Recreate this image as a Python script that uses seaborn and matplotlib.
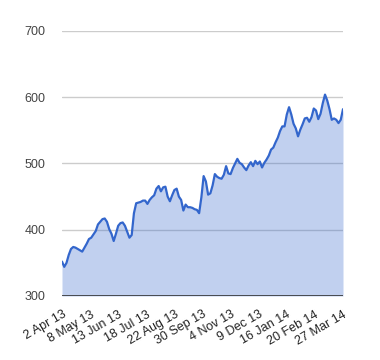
import numpy as np
import pandas as pd
import matplotlib
matplotlib.use("Agg")
import matplotlib.pyplot as plt
import seaborn as sns

# Data: closing values sampled every 2 trading days (index step 2)
values = [352, 344, 350, 362, 371, 374, 373, 371, 369, 367,
          373, 379, 386, 388, 393, 398, 408, 412, 416, 417,
          412, 401, 394, 383, 394, 406, 410, 411, 406, 397,
          388, 392, 425, 440, 441, 442, 444, 444, 439, 445,
          449, 452, 462, 466, 458, 464, 465, 450, 443, 452,
          460, 462, 450, 445, 429, 438, 434, 434, 433, 431,
          430, 425, 449, 481, 473, 453, 455, 467, 484, 480,
          478, 477, 483, 496, 485, 484, 493, 500, 507, 501,
          499, 494, 490, 497, 502, 496, 504, 499, 503, 494,
          501, 506, 512, 521, 524, 532, 539, 549, 556, 556,
          574, 585, 574, 560, 553, 541, 551, 559, 568, 569,
          563, 570, 583, 580, 567, 575, 591, 604, 595, 582,
          566, 568, 566, 561, 566, 582]
tick_labels = ["2 Apr 13", "8 May 13", "13 Jun 13", "18 Jul 13", "22 Aug 13",
               "30 Sep 13", "4 Nov 13", "9 Dec 13", "16 Jan 14", "20 Feb 14",
               "27 Mar 14"]
y_ticks = [300, 400, 500, 600, 700]

df = pd.DataFrame({"day": np.arange(len(values)) * 2, "value": values})
tick_pos = np.arange(len(tick_labels)) * 25

sns.set_theme(style="white")
plt.rcParams["font.family"] = ["Liberation Sans", "DejaVu Sans"]

fig = plt.figure(figsize=(3.8, 3.6), dpi=100)
ax = fig.add_axes([62/380, 1-296/360, (343-62)/380, (296-31)/360])

color = "#3366cc"
for yv in y_ticks[1:]:
    ax.axhline(yv, color="#cccccc", lw=1, zorder=0)
ax.fill_between(df["day"], 300, df["value"], color=color, alpha=0.3, lw=0, zorder=1)
sns.lineplot(data=df, x="day", y="value", ax=ax, color=color, lw=1.6, zorder=3)
ax.axhline(300, color="#333333", lw=1.2, zorder=4)

ax.set_xlim(0, 250)
ax.set_ylim(300, 700)
ax.set_yticks(y_ticks)
ax.set_yticklabels([str(v) for v in y_ticks], fontsize=9, color="#444444")
ax.set_xticks(tick_pos)
ax.set_xticklabels(tick_labels, rotation=30, ha="right", rotation_mode="anchor",
                   fontsize=9, color="#222222")
ax.tick_params(axis="y", length=0, pad=12)
ax.tick_params(axis="x", length=0, pad=9)
ax.set_xlabel("")
ax.set_ylabel("")
for s in ax.spines.values():
    s.set_visible(False)

fig.savefig("out.png", dpi=100, facecolor="white")
